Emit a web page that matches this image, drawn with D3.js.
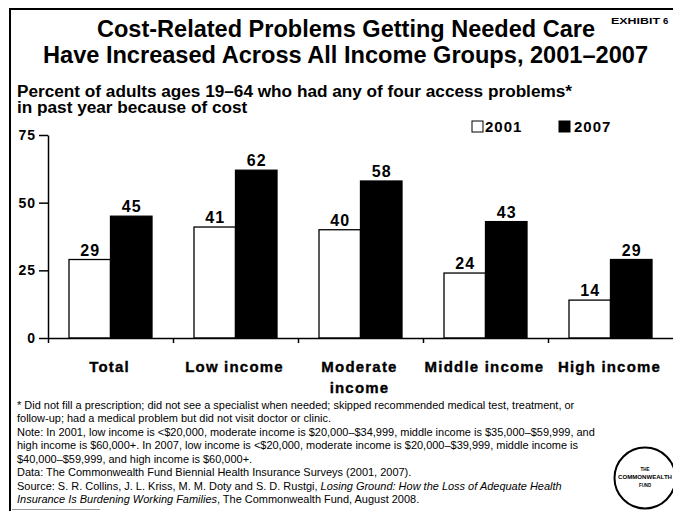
<!DOCTYPE html>
<html>
<head>
<meta charset="utf-8">
<script src="https://cdn.jsdelivr.net/npm/d3@7/dist/d3.min.js"></script>
<style>
  html, body { margin: 0; padding: 0; background: #fff; }
  svg { display: block; font-family: "Liberation Sans", Arial, Helvetica, sans-serif; }
</style>
</head>
<body>
<svg id="chart" width="673" height="511"></svg>
<script>
// ---- data ----
const categories = ["Total", "Low income", "Moderate\nincome", "Middle income", "High income"];
const seriesNames = ["2001", "2007"];
const values2001 = [29, 41, 40, 24, 14];
const values2007 = [45, 62, 58, 43, 29];
const yTicks = [0, 25, 50, 75];

const titleLines = [
  "Cost-Related Problems Getting Needed Care",
  "Have Increased Across All Income Groups, 2001\u20132007"
];
const subtitleLines = [
  "Percent of adults ages 19\u201364 who had any of four access problems*",
  "in past year because of cost"
];
const footnoteLines = [
  [{t: "* Did not fill a prescription; did not see a specialist when needed; skipped recommended medical test, treatment, or"}],
  [{t: "follow-up; had a medical problem but did not visit doctor or clinic."}],
  [{t: "Note: In 2001, low income is <$20,000, moderate income is $20,000\u2013$34,999, middle income is $35,000\u2013$59,999, and"}],
  [{t: "high income is $60,000+. In 2007, low income is <$20,000, moderate income is $20,000\u2013$39,999, middle income is"}],
  [{t: "$40,000\u2013$59,999, and high income is $60,000+."}],
  [{t: "Data: The Commonwealth Fund Biennial Health Insurance Surveys (2001, 2007)."}],
  [{t: "Source: S. R. Collins, J. L. Kriss, M. M. Doty and S. D. Rustgi, "}, {t: "Losing Ground: How the Loss of Adequate Health", i: true}],
  [{t: "Insurance Is Burdening Working Families", i: true}, {t: ", The Commonwealth Fund, August 2008."}]
];

const svg = d3.select("#chart");

// ---- frame ----
svg.append("line").attr("x1", 10).attr("x2", 673).attr("y1", 9).attr("y2", 9)
  .attr("stroke", "#000").attr("stroke-width", 2);
svg.append("line").attr("x1", 10).attr("x2", 10).attr("y1", 8).attr("y2", 511)
  .attr("stroke", "#000").attr("stroke-width", 2);
svg.append("line").attr("x1", 12).attr("x2", 100).attr("y1", 509.5).attr("y2", 509.5)
  .attr("stroke", "#999").attr("stroke-width", 1);

// ---- title ----
const titleSpans = [[97, 595, 37], [43, 648, 63]];
titleLines.forEach((line, i) => {
  const [x0, x1, y] = titleSpans[i];
  svg.append("text").attr("x", x0).attr("y", y)
    .attr("font-size", 23).attr("font-weight", "bold")
    .attr("textLength", x1 - x0).attr("lengthAdjust", "spacingAndGlyphs")
    .text(line);
});
svg.append("text").attr("x", 611).attr("y", 23.5)
  .attr("font-size", 9.5).attr("font-weight", "bold")
  .attr("textLength", 49).attr("lengthAdjust", "spacingAndGlyphs").text("EXHIBIT");
svg.append("text").attr("x", 663).attr("y", 23.5)
  .attr("font-size", 9.5).attr("font-weight", "bold").text("6");

// ---- subtitle (second line scaled like the first) ----
const sub1 = svg.append("text").attr("x", 17).attr("y", 97)
  .attr("font-size", 16).attr("font-weight", "bold").text(subtitleLines[0]);
const subScale = (572 - 17) / sub1.node().getComputedTextLength();
sub1.attr("textLength", 572 - 17).attr("lengthAdjust", "spacingAndGlyphs");
const sub2 = svg.append("text").attr("x", 17).attr("y", 113)
  .attr("font-size", 16).attr("font-weight", "bold").text(subtitleLines[1]);
sub2.attr("textLength", sub2.node().getComputedTextLength() * subScale)
  .attr("lengthAdjust", "spacingAndGlyphs");

// ---- scales ----
const plotLeft = 48, plotRight = 673, plotTop = 135, plotBottom = 338;
const x = d3.scaleBand().domain(categories).range([plotLeft, plotRight]).padding(0);
const xInner = d3.scaleBand().domain(seriesNames).range([21, x.bandwidth() - 21]).padding(0);
const y = d3.scaleLinear().domain([0, 75]).range([plotBottom, plotTop]);

// ---- y axis ----
const yAxis = svg.append("g").attr("transform", `translate(${plotLeft},0)`)
  .call(d3.axisLeft(y).tickValues(yTicks).tickSize(9).tickSizeOuter(0).tickPadding(4));
yAxis.select(".domain").attr("stroke-width", 1.5);
yAxis.selectAll(".tick line").attr("stroke-width", 1.5);
yAxis.selectAll(".tick text")
  .attr("font-family", "'Liberation Sans', Arial, sans-serif")
  .attr("font-size", 14).attr("font-weight", "bold").attr("fill", "#000")
  .attr("letter-spacing", 1).attr("dx", 1);

// ---- bars ----
const rows = categories.map((c, i) => ({ cat: c, vals: [values2001[i], values2007[i]] }));
const groups = svg.selectAll("g.group").data(rows).join("g")
  .attr("class", "group").attr("transform", d => `translate(${x(d.cat)},0)`);

groups.selectAll("rect").data(d => d.vals.map((v, k) => ({ s: seriesNames[k], v })))
  .join("rect")
  .attr("x", d => xInner(d.s))
  .attr("width", xInner.bandwidth())
  .attr("y", d => y(d.v))
  .attr("height", d => y(0) - y(d.v))
  .attr("fill", d => d.s === "2001" ? "#fff" : "#000")
  .attr("stroke", "#000").attr("stroke-width", 1.3);

groups.selectAll("text.val").data(d => d.vals.map((v, k) => ({ s: seriesNames[k], v })))
  .join("text").attr("class", "val")
  .attr("x", d => xInner(d.s) + xInner.bandwidth() / 2 + 0.5)
  .attr("y", d => y(d.v) - 4)
  .attr("text-anchor", "middle")
  .attr("font-size", 16).attr("font-weight", "bold").attr("letter-spacing", 1)
  .text(d => d.v);

// ---- x axis (ticks at category boundaries) ----
const xEdge = d3.scaleLinear().domain([0, categories.length]).range([plotLeft, plotRight]);
const xAxis = svg.append("g").attr("transform", `translate(0,${plotBottom})`)
  .call(d3.axisBottom(xEdge).tickValues(d3.range(0, categories.length)).tickFormat("")
    .tickSize(5).tickSizeOuter(0));
xAxis.select(".domain").attr("stroke-width", 1.5);
xAxis.selectAll(".tick line").attr("stroke-width", 1.5);

// ---- category labels ----
groups.each(function(d) {
  const cx = x.bandwidth() / 2;
  const t = d3.select(this).append("text")
    .attr("text-anchor", "middle").attr("font-size", 15).attr("font-weight", "bold")
    .attr("letter-spacing", 1.2).attr("stroke", "#000").attr("stroke-width", 0.35);
  d.cat.split("\n").forEach((ln, j) => {
    t.append("tspan").attr("x", cx - 1).attr("y", 372 + j * 21).text(ln);
  });
});

// ---- legend ----
const legendItems = [
  { s: "2001", box: 472, text: 485 },
  { s: "2007", box: 559, text: 574 }
];
legendItems.forEach(it => {
  svg.append("rect").attr("x", it.box).attr("y", 121).attr("width", 11).attr("height", 11)
    .attr("fill", it.s === "2001" ? "#fff" : "#000").attr("stroke", "#000").attr("stroke-width", 1);
  svg.append("text").attr("x", it.text).attr("y", 132)
    .attr("font-size", 15).attr("font-weight", "bold").attr("letter-spacing", 1).text(it.s);
});

// ---- footnotes ----
// size the notes so the first line runs to its "treatment, or" end at x = 575
const probe = svg.append("text").attr("font-size", 11).text(footnoteLines[0][0].t);
const footSize = 11 * (575 - 17) / probe.node().getBBox().width;
probe.remove();

const foot = svg.append("g").attr("fill", "#000");
footnoteLines.forEach((parts, i) => {
  const t = foot.append("text").attr("x", 17).attr("y", 409 + i * 13.45)
    .attr("font-size", footSize);
  parts.forEach(p => t.append("tspan").attr("font-style", p.i ? "italic" : "normal").text(p.t));
});

// ---- logo ----
const logo = svg.append("g").attr("transform", "translate(645,478)");
logo.append("circle").attr("r", 30.5).attr("fill", "#fff").attr("stroke", "#000").attr("stroke-width", 2);
[["THE", -7, 9], ["COMMONWEALTH", 1, 54], ["FUND", 9, 12]].forEach(([s, dy, w]) => {
  logo.append("text").attr("x", -w / 2).attr("y", dy)
    .attr("font-size", 6).attr("font-weight", "bold")
    .attr("textLength", w).attr("lengthAdjust", "spacingAndGlyphs").text(s);
});
</script>
</body>
</html>
